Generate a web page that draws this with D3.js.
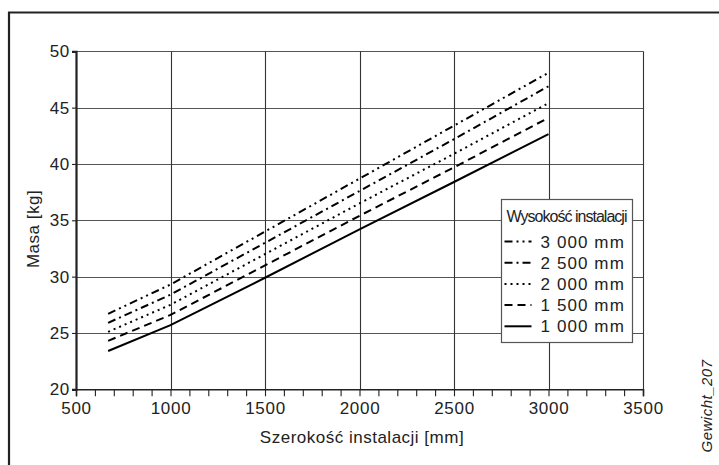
<!DOCTYPE html>
<html>
<head>
<meta charset="utf-8" />
<title>Masa</title>
<style>
  body { margin: 0; background: #fff; }
  text { font-family: "Liberation Sans", Arial, sans-serif; fill: #222; }
</style>
</head>
<body>
<svg id="chart"></svg>
<script src="https://cdn.jsdelivr.net/npm/d3@7"></script>
<script>

  // data
  var widths = [670, 1000, 1500, 2000, 2500, 3000];
  var m3000 = [26.7, 29.3, 34.0, 38.7, 43.4, 48.1];
  var m2500 = [25.9, 28.4, 33.0, 37.6, 42.2, 46.9];
  var m2000 = [25.1, 27.5, 32.0, 36.5, 40.9, 45.4];
  var m1500 = [24.3, 26.6, 31.0, 35.4, 39.7, 44.1];
  var m1000 = [23.4, 25.7, 29.9, 34.2, 38.4, 42.65];
  var seriesNames = ["3 000 mm", "2 500 mm", "2 000 mm", "1 500 mm", "1 000 mm"];
  var xTicks = [500, 1000, 1500, 2000, 2500, 3000, 3500];
  var yTicks = [20, 25, 30, 35, 40, 45, 50];

  var dashes = ["8,4,2,4,2,4", "8,4,2,4", "2,4", "8,5", null];
  var allSeries = [m3000, m2500, m2000, m1500, m1000];

  var W = 719, H = 465;
  var svg = d3.select("#chart").attr("width", W).attr("height", H);

  // frame
  svg.append("line").attr("x1", 9).attr("x2", 9).attr("y1", 12).attr("y2", H)
     .attr("stroke", "#222").attr("stroke-width", 2.2);
  svg.append("line").attr("x1", 8).attr("x2", W).attr("y1", 12.5).attr("y2", 12.5)
     .attr("stroke", "#222").attr("stroke-width", 2.2);

  var x = d3.scaleLinear().domain([500, 3500]).range([76, 643]);
  var y = d3.scaleLinear().domain([20, 50]).range([389.3, 51.3]);

  // grid
  svg.append("g").selectAll("line")
     .data(yTicks.slice(1))
     .enter().append("line")
     .attr("x1", x(500)).attr("x2", x(3500))
     .attr("y1", function(d){ return Math.round(y(d)) + 0.5; })
     .attr("y2", function(d){ return Math.round(y(d)) + 0.5; })
     .attr("stroke", "#555").attr("stroke-width", 1.1);

  svg.append("g").selectAll("line")
     .data(xTicks.slice(1))
     .enter().append("line")
     .attr("x1", function(d){ return Math.round(x(d)) + 0.5; })
     .attr("x2", function(d){ return Math.round(x(d)) + 0.5; })
     .attr("y1", y(50)).attr("y2", y(20))
     .attr("stroke", "#333").attr("stroke-width", 1.1);

  // axes
  var xAxis = d3.axisBottom(x).tickValues(d3.range(500, 3501, 100))
                .tickSize(7).tickFormat(function(d){ return d % 500 == 0 ? d : ""; });
  var gx = svg.append("g").attr("transform", "translate(0," + y(20) + ")").call(xAxis);
  gx.select(".domain").attr("stroke", "#222").attr("stroke-width", 1.6);
  gx.selectAll(".tick line").attr("stroke", "#222").attr("stroke-width", 1.1);
  gx.selectAll("text").attr("font-size", "17px").attr("letter-spacing", "0.7px")
    .attr("fill", "#2a2a2a").attr("dy", "0.85em").attr("font-family", "Liberation Sans, Arial, sans-serif");

  var yAxis = d3.axisLeft(y).tickValues(yTicks).tickSize(4);
  var gy = svg.append("g").attr("transform", "translate(" + x(500) + ",0)").call(yAxis);
  gy.select(".domain").attr("stroke", "#222").attr("stroke-width", 2.2);
  gy.selectAll(".tick line").attr("stroke", "#222").attr("stroke-width", 1.1);
  gy.selectAll("text").attr("font-size", "17px").attr("letter-spacing", "0.7px")
    .attr("fill", "#2a2a2a").attr("x", -6).attr("font-family", "Liberation Sans, Arial, sans-serif");

  // series
  var line = d3.line()
               .x(function(d, i){ return x(widths[i]); })
               .y(function(d){ return y(d); });

  svg.append("g").selectAll("path")
     .data(allSeries)
     .enter().append("path")
     .attr("d", line)
     .attr("fill", "none")
     .attr("stroke", "#000")
     .attr("stroke-width", 2)
     .attr("stroke-dasharray", function(d, i){ return dashes[i]; });

  // axis titles
  svg.append("text").attr("x", 362).attr("y", 443).attr("text-anchor", "middle")
     .attr("font-size", "17px").attr("letter-spacing", "0.5px").attr("fill", "#2a2a2a")
     .text("Szerokość instalacji [mm]");
  svg.append("text").attr("transform", "translate(39,229) rotate(-90)")
     .attr("text-anchor", "middle").attr("font-size", "17px").attr("letter-spacing", "0.5px")
     .attr("fill", "#2a2a2a")
     .text("Masa [kg]");
  svg.append("text").attr("transform", "translate(712,406) rotate(-90)")
     .attr("text-anchor", "middle").attr("font-size", "15px").attr("font-style", "italic")
     .attr("letter-spacing", "0.5px").attr("fill", "#2a2a2a")
     .text("Gewicht_207");

  // legend
  var lg = svg.append("g").attr("transform", "translate(501.5,199.5)");
  lg.append("rect").attr("width", 131).attr("height", 143)
    .attr("fill", "#fff").attr("stroke", "#555").attr("stroke-width", 1.2);
  lg.append("text").attr("x", 5).attr("y", 22)
    .attr("font-family", "Liberation Sans Narrow, Arial Narrow, sans-serif")
    .attr("font-size", "16px").attr("textLength", 121).attr("fill", "#2a2a2a")
    .text("Wysokość instalacji");

  var rows = lg.selectAll(".row")
               .data(seriesNames)
               .enter().append("g")
               .attr("class", "row")
               .attr("transform", function(d, i){ return "translate(0," + (42 + i * 21.2) + ")"; });
  rows.append("line").attr("x1", 3).attr("x2", 30)
      .attr("stroke", "#000").attr("stroke-width", 2)
      .attr("stroke-dasharray", function(d, i){ return dashes[i]; });
  rows.append("text").attr("x", 39).attr("dy", "0.36em")
      .attr("font-size", "17px").attr("letter-spacing", "1.1px").attr("fill", "#2a2a2a")
      .text(function(d){ return d; });

</script>
</body>
</html>
